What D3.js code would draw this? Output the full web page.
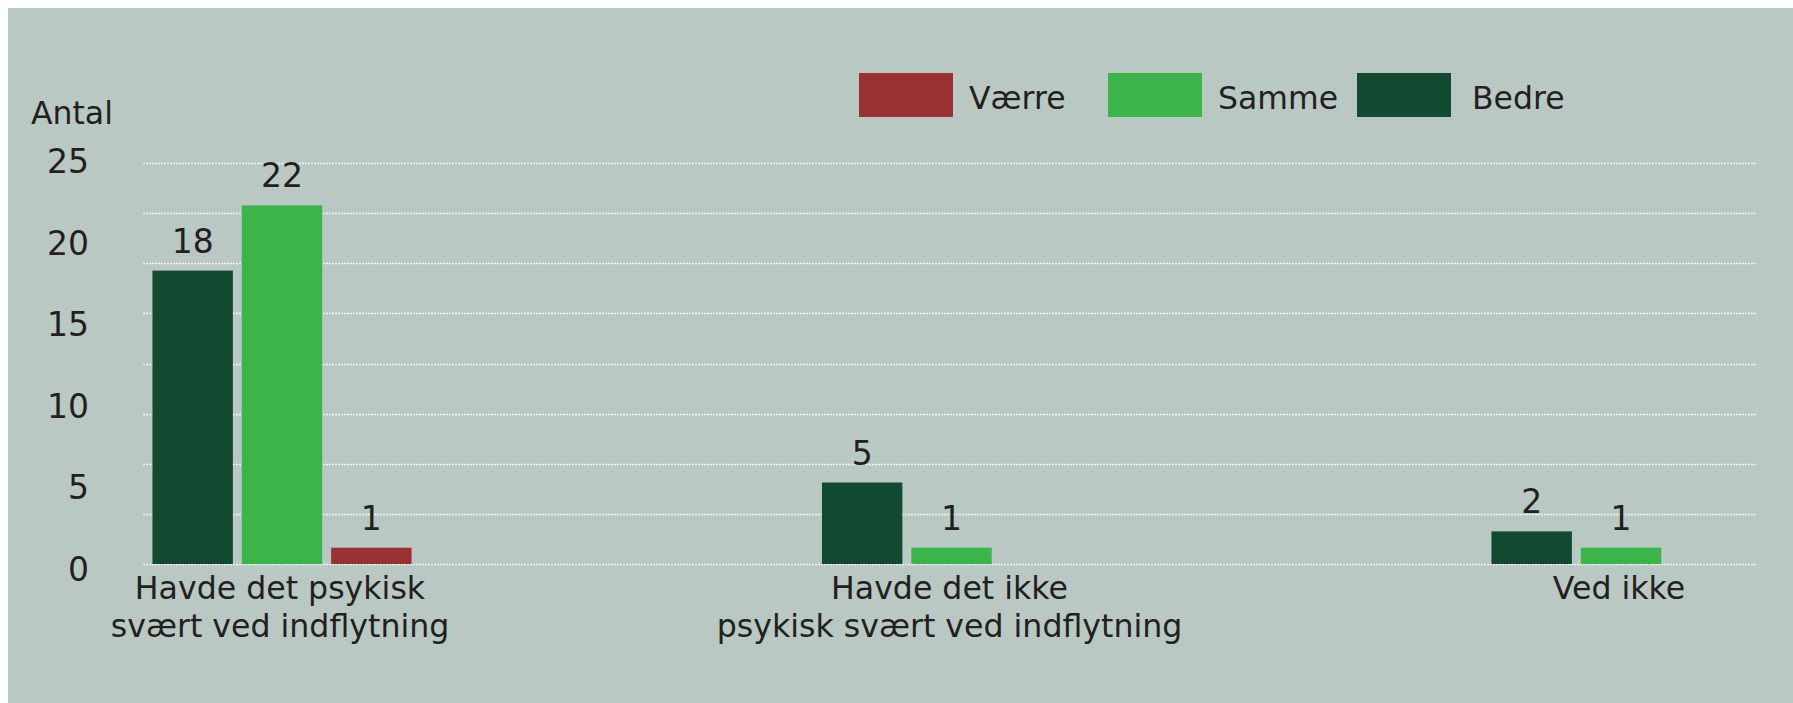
<!DOCTYPE html>
<html lang="da">
<head>
<meta charset="utf-8">
<script src="https://cdn.jsdelivr.net/npm/d3@7"></script>
<style>
  html, body { margin: 0; padding: 0; background: #ffffff; }
  svg { display: block; }
  text { font-family: "DejaVu Sans", Verdana, sans-serif; fill: #231f20; }
</style>
</head>
<body>
<svg id="chart" width="1793" height="703"></svg>
<script>
// Categories (x axis) and their two-line labels
const categories = [
  "Havde det psykisk svært ved indflytning",
  "Havde det ikke psykisk svært ved indflytning",
  "Ved ikke"
];
const categoryLines = [
  ["Havde det psykisk", "svært ved indflytning"],
  ["Havde det ikke", "psykisk svært ved indflytning"],
  ["Ved ikke"]
];

// Series values per category (null = no bar)
const seriesNames = ["Bedre", "Samme", "Værre"];
const bedre  = [18, 5, 2];
const samme  = [22, 1, 1];
const vaerre = [1, null, null];

// Legend order and y-axis tick labels
const legendOrder = ["Værre", "Samme", "Bedre"];
const yTicks = [0, 5, 10, 15, 20, 25];
const yAxisTitle = "Antal";

const colors = { "Bedre": "#114a31", "Samme": "#3bb54a", "Værre": "#9a3032" };
const valuesBySeries = { "Bedre": bedre, "Samme": samme, "Værre": vaerre };

const svg = d3.select("#chart");
const W = 1793, H = 703;

// Panel background
svg.append("rect")
  .attr("x", 8).attr("y", 8)
  .attr("width", W - 8).attr("height", H - 8)
  .attr("fill", "#b9c8c2");

// Scales
const y = d3.scaleLinear().domain([0, 25]).range([564, 156.5]);
const x0 = d3.scalePoint().domain(categories).range([282, 1621]);
const x1 = d3.scaleBand().domain(seriesNames).range([-134, 134])
  .paddingInner(0.1).paddingOuter(0.05);

// Dotted horizontal gridlines: eight equal divisions of the plot height
const gridTop = 24.6, gridDivisions = 8;
const gridValues = d3.range(gridDivisions + 1).map(i => gridTop * i / gridDivisions);
svg.append("g")
  .selectAll("line")
  .data(gridValues)
  .join("line")
  .attr("x1", 143).attr("x2", 1757)
  .attr("y1", d => Math.round(y(d)) + 0.5).attr("y2", d => Math.round(y(d)) + 0.5)
  .attr("stroke", "#f3f6f4")
  .attr("stroke-width", 1.4)
  .attr("stroke-dasharray", "2,1");

// Y axis labels
const yAxis = d3.axisLeft(y).tickValues(yTicks).tickSize(0).tickPadding(0);
const gy = svg.append("g").attr("transform", "translate(89,0)").call(yAxis);
gy.select(".domain").remove();
gy.selectAll("text")
  .attr("font-size", 33)
  .attr("font-family", "DejaVu Sans, Verdana, sans-serif")
  .attr("fill", "#231f20")
  .attr("dy", "0.32em")
  .attr("y", 5.5);

// Y axis title
svg.append("text")
  .attr("x", 31).attr("y", 124)
  .attr("font-size", 31.5)
  .text(yAxisTitle);

// Bars
const barData = [];
categories.forEach((c, i) => {
  seriesNames.forEach(s => {
    const v = valuesBySeries[s][i];
    if (v != null) barData.push({ cat: c, series: s, value: v });
  });
});

svg.append("g")
  .selectAll("rect")
  .data(barData)
  .join("rect")
  .attr("x", d => x0(d.cat) + x1(d.series))
  .attr("width", x1.bandwidth())
  .attr("y", d => y(d.value))
  .attr("height", d => y(0) - y(d.value))
  .attr("fill", d => colors[d.series]);

// Value labels
svg.append("g")
  .selectAll("text")
  .data(barData)
  .join("text")
  .attr("x", d => x0(d.cat) + x1(d.series) + x1.bandwidth() / 2)
  .attr("y", d => y(d.value) - 18)
  .attr("text-anchor", "middle")
  .attr("font-size", 33)
  .text(d => d.value);

// Category labels
const catG = svg.append("g");
categories.forEach((c, i) => {
  const t = catG.append("text")
    .attr("text-anchor", "middle")
    .attr("font-size", 31.6);
  categoryLines[i].forEach((line, j) => {
    t.append("tspan")
      .attr("x", x0(c) - 2)
      .attr("y", 599 + j * 38)
      .text(line);
  });
});

// Legend
const legendX = d3.scalePoint().domain(legendOrder).range([859, 1357]);
const legendTextGap = { "Værre": 110, "Samme": 110, "Bedre": 115 };
const lg = svg.append("g")
  .selectAll("g")
  .data(legendOrder)
  .join("g")
  .attr("transform", d => `translate(${legendX(d)},73)`);
lg.append("rect")
  .attr("width", 94).attr("height", 44)
  .attr("fill", d => colors[d]);
lg.append("text")
  .attr("x", d => legendTextGap[d]).attr("y", 35.5)
  .attr("font-size", 31.5)
  .text(d => d);
</script>
</body>
</html>
